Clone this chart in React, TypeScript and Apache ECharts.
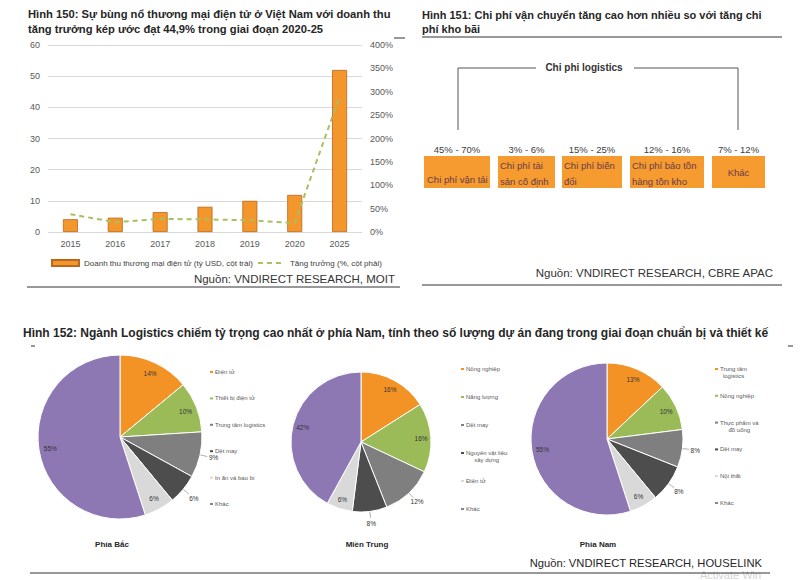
import { useEffect, useRef } from 'react';
import * as echarts from 'echarts';

// ---------- DATA ----------
const years = ['2015', '2016', '2017', '2018', '2019', '2020', '2025'];
const revenue = [4.1, 4.6, 6.4, 8.1, 10.0, 11.9, 52];
const growth = [38, 21, 28, 27, 25, 19, 290];
const revenueName = 'Doanh thu thương mại điện tử (tỷ USD, cột trái)';
const growthName = 'Tăng trưởng (%, cột phải)';

const costItems = ['Chi phí vận tải', 'Chi phí tài\nsản cố định', 'Chi phí biến\nđổi', 'Chi phí bảo tồn\nhàng tồn kho', 'Khác'];
const costRanges = ['45% - 70%', '3% - 6%', '15% - 25%', '12% - 16%', '7% - 12%'];

const northNames = ['Điện tử', 'Thiết bị điện tử', 'Trung tâm logistics', 'Dệt may', 'In ấn và bao bì', 'Khác'];
const northValues = [14, 10, 9, 6, 6, 55];
const centralNames = ['Nông nghiệp', 'Năng lượng', 'Dệt may', 'Nguyên vật liệu\nxây dựng', 'Điện tử', 'Khác'];
const centralValues = [16, 16, 12, 8, 6, 42];
const southNames = ['Trung tâm\nlogistics', 'Nông nghiệp', 'Thực phẩm và\nđồ uống', 'Dệt may', 'Nội thất', 'Khác'];
const southValues = [13, 10, 8, 8, 6, 55];

// ---------- STYLE ----------
const FONT = '"Liberation Sans", Arial, sans-serif';
const pieColors = ['#F39325', '#9BBB59', '#7F7F7F', '#4D4D4D', '#D9D9D9', '#8E78B4'];
const outsideIdx = [2, 3];

let measureCtx: CanvasRenderingContext2D | null = null;
function textWidth(t: string, size: number) {
  if (!measureCtx) measureCtx = document.createElement('canvas').getContext('2d');
  if (!measureCtx) return t.length * size * 0.5;
  measureCtx.font = `${size}px ${FONT}`;
  return measureCtx.measureText(t).width;
}

function pieSeries(names: string[], values: number[], cx: number, cy: number, r: number) {
  const total = values.reduce((a, b) => a + b, 0);
  const pt = (ang: number, f: number) => [cx + f * r * Math.cos(ang), cy - f * r * Math.sin(ang)];
  return {
    type: 'pie',
    center: [cx, cy],
    radius: r,
    startAngle: 90,
    clockwise: true,
    avoidLabelOverlap: false,
    itemStyle: { borderColor: '#ffffff', borderWidth: 1 },
    label: { fontSize: 6.5, color: '#333', fontFamily: FONT, formatter: '{c}%' },
    labelLine: { length: 4, length2: 2, lineStyle: { color: '#999', width: 0.8 } },
    labelLayout: (params: any) => {
      const i = params.dataIndex;
      let cum = 0;
      for (let j = 0; j < i; j++) cum += values[j];
      const ang = ((90 - (360 * (cum + values[i] / 2)) / total) * Math.PI) / 180;
      if (outsideIdx.includes(i)) {
        const p = pt(ang, 1.17);
        return {
          x: p[0], y: p[1], align: 'center', verticalAlign: 'middle',
          labelLinePoints: [pt(ang, 1.0), pt(ang, 1.05), pt(ang, 1.09)],
        };
      }
      const p = pt(ang, 0.86);
      return { x: p[0], y: p[1], align: 'center', verticalAlign: 'middle' };
    },
    data: names.map((n, i) => ({
      name: n,
      value: values[i],
      itemStyle: { color: pieColors[i] },
      label: outsideIdx.includes(i)
        ? { position: 'outside', color: '#333' }
        : { position: 'inside', color: '#333' },
      labelLine: { show: outsideIdx.includes(i) },
    })),
  };
}

function pieLegend(names: string[], x: number, y0: number, step: number) {
  const els: any[] = [];
  const fs = 6;
  names.forEach((n, i) => {
    const y = y0 + i * step;
    els.push({ type: 'rect', shape: { x: x, y: y - 1, width: 3, height: 2 }, style: { fill: pieColors[i] } });
    const lines = n.split('\n');
    if (lines.length === 1) {
      els.push({
        type: 'text', x: x + 5, y,
        style: { text: n, fontSize: fs, fill: '#595959', fontFamily: FONT, align: 'left', verticalAlign: 'middle' },
      });
    } else {
      const w = Math.max(...lines.map((l) => textWidth(l, fs)));
      els.push({
        type: 'text', x: x + 5 + w / 2, y: y - 3.5,
        style: { text: n, fontSize: fs, lineHeight: 7, fill: '#595959', fontFamily: FONT, align: 'center', verticalAlign: 'top' },
      });
    }
  });
  return els;
}

function text(t: string, x: number, y: number, o: any = {}) {
  return {
    type: 'text', x, y,
    style: { text: t, fontFamily: FONT, fill: '#262626', fontSize: 11, verticalAlign: 'middle', align: 'left', ...o },
  };
}
function hline(x1: number, x2: number, y: number, color = '#333', w = 1) {
  return { type: 'line', shape: { x1, y1: y, x2, y2: y }, style: { stroke: color, lineWidth: w } };
}

function buildDiagram() {
  const els: any[] = [];
  const boxX = [424, 498, 562, 630, 712];
  const boxW = [66, 57, 60, 74, 53];
  const top = 156, h = 32;
  els.push({ type: 'polyline', shape: { points: [[458, 130], [458, 68], [536, 68]] }, style: { stroke: '#555', lineWidth: 1, fill: null } });
  els.push({ type: 'polyline', shape: { points: [[634, 68], [738, 68], [738, 130]] }, style: { stroke: '#555', lineWidth: 1, fill: null } });
  els.push(text('Chi phi logistics', 584, 67, { align: 'center', fontSize: 10, fontWeight: 'bold', fill: '#333' }));
  costItems.forEach((c, i) => {
    const x = boxX[i], w = boxW[i];
    els.push({ type: 'rect', shape: { x, y: top, width: w, height: h }, style: { fill: '#F59B2F' } });
    els.push(text(costRanges[i], x + w / 2, 149, { align: 'center', fontSize: 9.5, fill: '#404040' }));
    const st = { fontSize: 9.5, fill: '#6A3A4C' };
    if (i === 0) els.push(text(c, x + 3, 179, st));
    else if (i === costItems.length - 1) els.push(text(c, x + w / 2, 172, { ...st, align: 'center' }));
    else els.push(text(c, x + 2, 157, { ...st, verticalAlign: 'top', lineHeight: 16 }));
  });
  return els;
}

const option: any = {
  animation: false,
  backgroundColor: '#ffffff',
  textStyle: { fontFamily: FONT },
  grid: [{ left: 48, right: 438, top: 45, bottom: 348 }],
  legend: {
    left: 46, top: 254,
    itemWidth: 27, itemHeight: 6, itemGap: 4,
    textStyle: { fontSize: 8, color: '#404040', fontFamily: FONT },
    data: [
      { name: revenueName, icon: 'rect' },
      { name: growthName, itemStyle: { opacity: 0 } },
    ],
  },
  xAxis: [{
    type: 'category', data: years, gridIndex: 0,
    axisLine: { show: false }, axisTick: { show: false },
    axisLabel: { fontSize: 9, color: '#595959', margin: 7, fontFamily: FONT },
  }],
  yAxis: [
    {
      type: 'value', min: 0, max: 60, interval: 10, gridIndex: 0,
      axisLabel: { fontSize: 9, color: '#595959', margin: 8, fontFamily: FONT },
      splitLine: { lineStyle: { color: '#D9D9D9' } },
      axisLine: { show: false }, axisTick: { show: false },
    },
    {
      type: 'value', min: 0, max: 400, interval: 50, gridIndex: 0, position: 'right',
      axisLabel: { fontSize: 9, color: '#595959', margin: 8, formatter: '{value}%', fontFamily: FONT },
      splitLine: { show: false }, axisLine: { show: false }, axisTick: { show: false },
    },
  ],
  series: [
    {
      name: revenueName, type: 'bar', data: revenue, barWidth: 15,
      itemStyle: { color: '#F3962B', borderColor: '#B8671C', borderWidth: 0.8 },
    },
    {
      name: growthName, type: 'line', data: growth, yAxisIndex: 1, symbol: 'none',
      lineStyle: { color: '#A8C060', width: 2, type: [5, 4] }, itemStyle: { color: '#A8C060' },
    },
    pieSeries(northNames, northValues, 120, 437, 82),
    pieSeries(centralNames, centralValues, 361, 442, 70),
    pieSeries(southNames, southValues, 607, 439, 76),
  ],
  graphic: [
    text('Hình 150: Sự bùng nổ thương mại điện tử ở Việt Nam với doanh thu', 28, 14, { fontWeight: 'bold', fontSize: 11.2 }),
    text('tăng trưởng kép ước đạt 44,9% trong giai đoạn 2020-25', 28, 29, { fontWeight: 'bold', fontSize: 11.2 }),
    text('Hình 151: Chi phí vận chuyển tăng cao hơn nhiều so với tăng chi', 422, 15, { fontWeight: 'bold', fontSize: 11 }),
    text('phí kho bãi', 422, 29, { fontWeight: 'bold', fontSize: 11 }),
    hline(422, 782, 37),
    hline(394, 405, 38),
    text('Nguồn: VNDIRECT RESEARCH, MOIT', 395, 279, { align: 'right', fontSize: 11.5, fill: '#333' }),
    hline(27, 400, 287),
    text('Nguồn: VNDIRECT RESEARCH, CBRE APAC', 773, 273, { align: 'right', fontSize: 11.5, fill: '#333' }),
    hline(422, 782, 285),
    ...buildDiagram(),
    text('Hình 152: Ngành Logistics chiếm tỷ trọng cao nhất ở phía Nam, tính theo số lượng dự án đang trong giai đoạn chuẩn bị và thiết kế', 23, 333, { fontWeight: 'bold', fontSize: 12 }),
    hline(31, 35, 346),
    hline(788, 793, 346),
    text('Phía Bắc', 112, 544, { align: 'center', fontWeight: 'bold', fontSize: 8 }),
    text('Miền Trung', 367, 544, { align: 'center', fontWeight: 'bold', fontSize: 8 }),
    text('Phía Nam', 598, 544, { align: 'center', fontWeight: 'bold', fontSize: 8 }),
    ...pieLegend(northNames, 210, 372, 26.4),
    ...pieLegend(centralNames, 461, 369, 28),
    ...pieLegend(southNames, 715, 369, 26.8),
    text('Activate Win', 700, 574.5, { fontSize: 11, fill: '#D4D4D4' }),
    text('Nguồn: VNDIRECT RESEARCH, HOUSELINK', 762, 563, { align: 'right', fontSize: 11.2, fill: '#262626' }),
    hline(30, 770, 573),
  ],
};

export default function App() {
  const ref = useRef<HTMLDivElement>(null);
  useEffect(() => {
    const chart = echarts.init(ref.current!, null, { renderer: 'svg' });
    chart.setOption(option);
    return () => chart.dispose();
  }, []);
  return <div ref={ref} style={{ position: 'absolute', left: 0, top: 0, width: 800, height: 580, background: '#fff' }} />;
}
